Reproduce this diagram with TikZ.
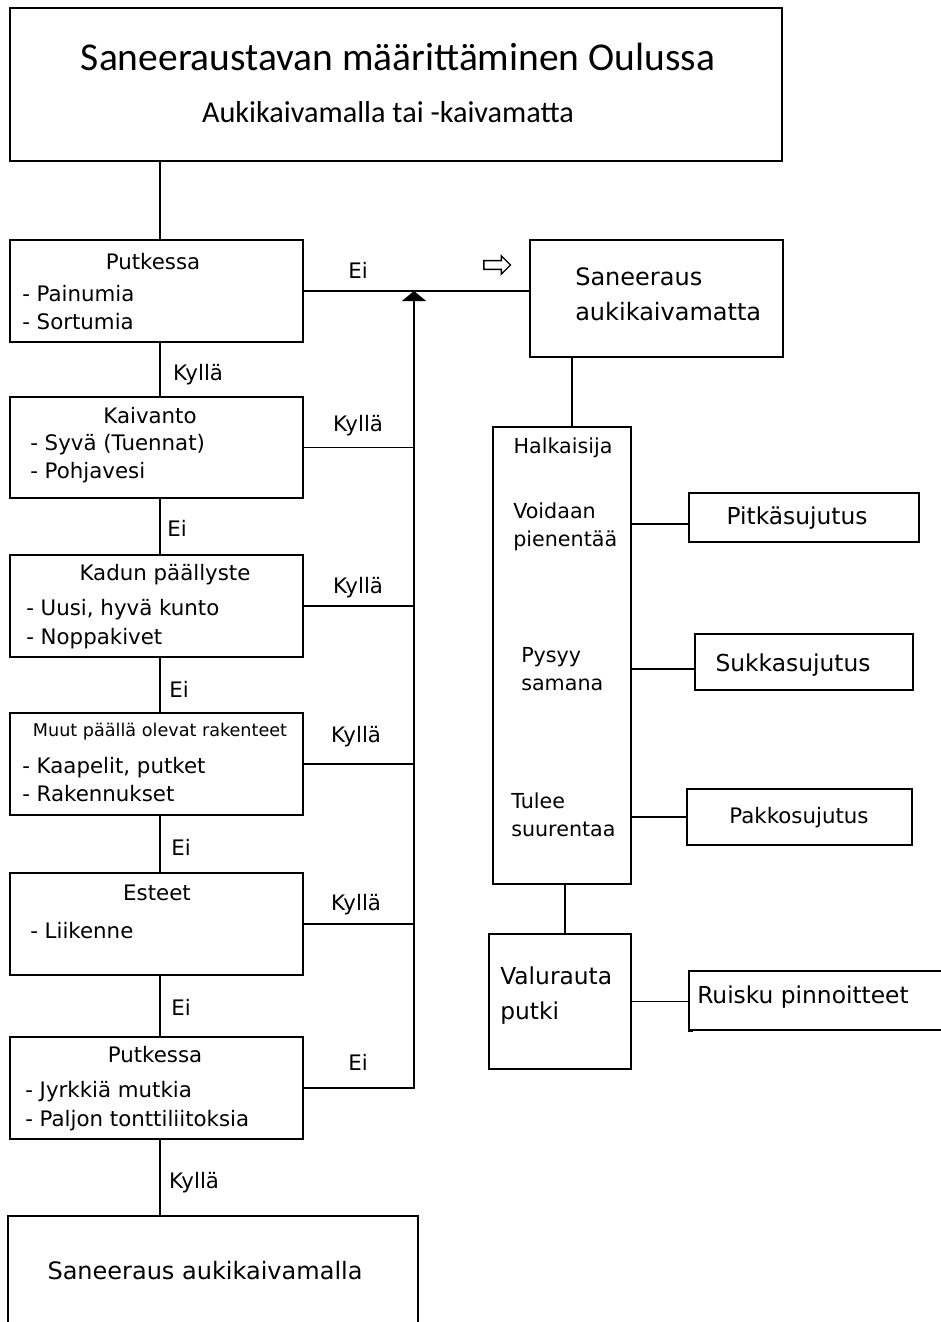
\documentclass[tikz,border=0pt]{standalone}
\usepackage{fontspec}
\setmainfont{DejaVu Sans}
\newfontfamily\titlefont{Carlito}
\usetikzlibrary{fit,arrows.meta,shapes.arrows}

\tikzset{
    box/.style={draw, line width=1.2pt, inner sep=0pt},
    txt/.style={inner sep=0pt, text height=0.75em, text depth=0.2em, yshift=-3pt,
        font=\fontsize{16}{19}\selectfont},
    item/.style={txt, anchor=west},
    big/.style={font=\fontsize{17.5}{21}\selectfont},
    link/.style={line width=1.2pt},
}

\begin{document}
\begin{tikzpicture}[x=0.75pt, y=-0.75pt]
    \useasboundingbox (0,0) rectangle (941,1322);

    % title
    \node[box, fit={(10,8) (782,161)}] (title) {};
    \node[txt, font=\titlefont\fontsize{29.6}{34}\selectfont] (titletext) at (398,63) {Saneeraustavan määrittäminen Oulussa};
    \node[txt, font=\titlefont\fontsize{22.7}{27}\selectfont] (subtext) at (388,115) {Aukikaivamalla tai -kaivamatta};

    % left column
    \node[box, fit={(10,240) (303,342)}] (putk) {};
    \node[txt] (putkt) at (153,262) {Putkessa};
    \node[item] (putka) at (22,294) {- Painumia};
    \node[item] (putkb) at (22,322) {- Sortumia};

    \node[box, fit={(10,397) (303,498)}] (kaiv) {};
    \node[txt] (kaivt) at (150,416) {Kaivanto};
    \node[item] (kaiva) at (30,443) {- Syvä (Tuennat)};
    \node[item] (kaivb) at (30,471) {- Pohjavesi};

    \node[box, fit={(10,555) (303,657)}] (kadun) {};
    \node[txt] (kadunt) at (165,573) {Kadun päällyste};
    \node[item] (kaduna) at (26,608) {- Uusi, hyvä kunto};
    \node[item] (kadunb) at (26,637) {- Noppakivet};

    \node[box, fit={(10,713) (303,815)}] (muut) {};
    \node[txt, font=\fontsize{13.2}{16}\selectfont] (muutt) at (160,729) {Muut päällä olevat rakenteet};
    \node[item] (muuta) at (22,766) {- Kaapelit, putket};
    \node[item] (muutb) at (22,794) {- Rakennukset};

    \node[box, fit={(10,873) (303,975)}] (este) {};
    \node[txt] (estet) at (157,893) {Esteet};
    \node[item] (estea) at (30,931) {- Liikenne};

    \node[box, fit={(10,1037) (303,1139)}] (putk2) {};
    \node[txt] (putk2t) at (155,1055) {Putkessa};
    \node[item] (putk2a) at (25,1090) {- Jyrkkiä mutkia};
    \node[item] (putk2b) at (25,1119) {- Paljon tonttiliitoksia};

    \node[box, fit={(8,1216) (418,1340)}] (auki) {};
    \node[txt, font=\fontsize{18}{22}\selectfont] (aukit) at (205,1272) {Saneeraus aukikaivamalla};

    \coordinate (lx) at (160,0);
    \draw[link] (title.south -| lx) -- (putk.north -| lx);
    \draw[link] (putk.south -| lx) -- (kaiv.north -| lx);
    \draw[link] (kaiv.south -| lx) -- (kadun.north -| lx);
    \draw[link] (kadun.south -| lx) -- (muut.north -| lx);
    \draw[link] (muut.south -| lx) -- (este.north -| lx);
    \draw[link] (este.south -| lx) -- (putk2.north -| lx);
    \draw[link] (putk2.south -| lx) -- (auki.north -| lx);

    \node[txt] (l1) at (198,373) {Kyllä};
    \node[txt] (l2) at (177,529) {Ei};
    \node[txt] (l3) at (179,690) {Ei};
    \node[txt] (l4) at (181,848) {Ei};
    \node[txt] (l5) at (181,1008) {Ei};
    \node[txt] (l6) at (194,1181) {Kyllä};

    % return line
    \coordinate (vx) at (414,0);
    \draw[link] (kaiv.east) -- (kaiv.east -| vx);
    \draw[link] (kadun.east) -- (kadun.east -| vx);
    \draw[link] (muut.east) -- (muut.east -| vx);
    \draw[link] (este.east) -- (este.east -| vx);
    \draw[link, -{Triangle[width=18pt, length=7.5pt]}] (putk2.east) -- (putk2.east -| vx) -- (putk.east -| vx);

    \node[txt] (r1) at (358,424) {Kyllä};
    \node[txt] (r2) at (358,586) {Kyllä};
    \node[txt] (r3) at (356,735) {Kyllä};
    \node[txt] (r4) at (356,903) {Kyllä};
    \node[txt] (r5) at (358,1063) {Ei};

    % right column
    \node[box, fit={(530,240) (783,357)}] (sanm) {};
    \node[item, font=\fontsize{18}{22}\selectfont] (sanma) at (575,278) {Saneeraus};
    \node[item, font=\fontsize{18}{22}\selectfont] (sanmb) at (575,313) {aukikaivamatta};

    \draw[link] (putk.east) -- (putk.east -| sanm.west);
    \node[txt] (r0) at (358,271) {Ei};
    \node[single arrow, draw, line width=1pt, inner sep=2.8pt, single arrow head extend=3.6pt,
        minimum height=20pt, single arrow head indent=0pt] (openarr) at (495,265) {};

    \node[box, fit={(493,427) (631,884)}] (halk) {};
    \node[txt, font=\fontsize{15.5}{18}\selectfont] (halkt) at (563,446) {Halkaisija};
    \node[item, font=\fontsize{15.5}{18}\selectfont] (halka) at (513,511) {Voidaan};
    \node[item, font=\fontsize{15.5}{18}\selectfont] (halkb) at (513,539) {pienentää};
    \node[item, font=\fontsize{15.5}{18}\selectfont] (halkc) at (521,655) {Pysyy};
    \node[item, font=\fontsize{15.5}{18}\selectfont] (halkd) at (521,683) {samana};
    \node[item, font=\fontsize{15.5}{18}\selectfont] (halke) at (511,801) {Tulee};
    \node[item, font=\fontsize{15.5}{18}\selectfont] (halkf) at (511,829) {suurentaa};

    \coordinate (hx) at (572,0);
    \draw[link] (sanm.south -| hx) -- (halk.north -| hx);

    \node[box, fit={(689,493) (919,542)}] (pitk) {};
    \node[txt, big] (pitkt) at (797,517) {Pitkäsujutus};
    \node[box, fit={(695,634) (913,690)}] (sukk) {};
    \node[txt, big] (sukkt) at (793,664) {Sukkasujutus};
    \node[box, fit={(687,789) (912,845)}] (pakk) {};
    \node[txt, font=\fontsize{16}{19}\selectfont] (pakkt) at (799,816) {Pakkosujutus};

    \draw[link] ([yshift=-4.9pt]pitk.west) -- ([yshift=-4.9pt]pitk.west -| halk.east);
    \draw[link] ([yshift=-5.2pt]sukk.west) -- ([yshift=-5.2pt]sukk.west -| halk.east);
    \draw[link] (pakk.west) -- (pakk.west -| halk.east);

    \node[box, fit={(489,934) (631,1069)}] (valu) {};
    \node[item, big] (valua) at (500,977) {Valurauta};
    \node[item, big] (valub) at (500,1012) {putki};

    \coordinate (wx) at (565,0);
    \draw[link] (halk.south -| wx) -- (valu.north -| wx);

    \node[box, fit={(689,971) (950,1030)}] (ruis) {};
    \node[item, big] (ruist) at (697,996) {Ruisku pinnoitteet};
    \draw[line width=2pt] (ruis.south west) -- ++(5,0);
    \draw[link] (valu.east) -- (valu.east -| ruis.west);
\end{tikzpicture}
\end{document}
